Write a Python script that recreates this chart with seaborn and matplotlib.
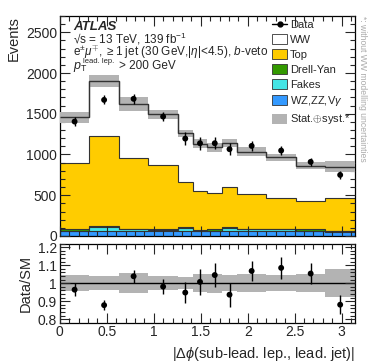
import numpy as np
import pandas as pd
import matplotlib
matplotlib.use("Agg")
import matplotlib.pyplot as plt
from matplotlib.lines import Line2D
from matplotlib.patches import Patch
import seaborn as sns

## Binning: |dphi| in units of pi/10, with finer bins in the middle
edges = np.pi / 10 * np.array([0, 1, 2, 3, 4, 4.5, 5, 5.5, 6, 7, 8, 9, 10])
centers = 0.5 * (edges[1:] + edges[:-1])

## Values (events per bin)
data = [1404, 1670, 1683, 1465, 1195, 1138, 1138, 1065, 1105, 1048, 909, 749]
data_err = [55, 55, 60, 60, 75, 80, 75, 75, 60, 60, 50, 45]
total_mc = [1457, 1903, 1621, 1494, 1261, 1130, 1089, 1138, 1035, 966, 863, 851]
top_cum = [893, 1228, 954, 868, 660, 553, 532, 598, 512, 470, 430, 470]
wz = [55, 65, 60, 60, 60, 55, 55, 60, 55, 55, 55, 50]
fakes = [10, 45, 20, 10, 40, 10, 10, 40, 25, 25, 10, 5]
dy = [15, 15, 10, 15, 10, 10, 15, 15, 10, 10, 15, 10]
rel_unc = [0.045, 0.037, 0.055, 0.037, 0.035, 0.05, 0.053, 0.046, 0.05, 0.045, 0.05, 0.076]

top = np.array(top_cum) - np.array(wz) - np.array(fakes) - np.array(dy)
ww = np.array(total_mc) - np.array(top_cum)

procs = ['WW', 'Top', 'Drell-Yan', 'Fakes', 'WZ,ZZ,V$\\gamma$']
colors = ['white', '#ffcc00', '#339900', '#44e5e5', '#3399ff']
yields = [ww, top, np.array(dy), np.array(fakes), np.array(wz)]

sns.set_theme(style='ticks')
plt.rcParams['font.family'] = ['Liberation Sans', 'DejaVu Sans']
plt.rcParams['mathtext.fontset'] = 'custom'
plt.rcParams['mathtext.rm'] = 'Liberation Sans'
plt.rcParams['mathtext.it'] = 'Liberation Sans:italic'
plt.rcParams['mathtext.bf'] = 'Liberation Sans:bold'

fig = plt.figure(figsize=(3.74, 3.63), dpi=100)
ax = fig.add_axes([0.160, 0.350, 0.789, 0.606])
rax = fig.add_axes([0.160, 0.111, 0.789, 0.218], sharex=ax)

## Stacked MC, drawn from the bottom process up
base = np.zeros(len(centers))
for y, c in list(zip(yields, colors))[::-1]:
    ax.stairs(base + y, edges, baseline=base, fill=True, color=c, lw=0, zorder=1)
    ax.stairs(base + y, edges, baseline=None, color='#333333', lw=0.8, zorder=2)
    base = base + y

tot = np.array(total_mc, dtype=float)
unc = tot * np.array(rel_unc)
ax.stairs(tot + unc, edges, baseline=tot - unc, fill=True,
          color='#b3b3b3', lw=0, zorder=3)
ax.stairs(tot, edges, baseline=None, color='#333333', lw=1, zorder=4)

pts = pd.DataFrame({'x': centers, 'y': data})
ax.errorbar(centers, data, yerr=data_err, fmt='none', ecolor='black',
            elinewidth=1, capsize=0, zorder=5)
sns.scatterplot(data=pts, x='x', y='y', color='black', s=18, edgecolor='none',
                zorder=6, ax=ax, legend=False)

ax.set_xlim(0, np.pi)
ax.set_ylim(0, 2700)
ax.set_ylabel('Events', loc='top', fontsize=10.5)
ax.set_xlabel('')
ax.set_yticks(np.arange(0, 2501, 500))
ax.set_yticks(np.arange(0, 2701, 100), minor=True)

## Ratio panel
ratio = np.array(data) / tot
ratio_err = np.array(data_err) / tot
rel = np.array(rel_unc)
rax.stairs(1 + rel, edges, baseline=1 - rel, fill=True, color='#b3b3b3', lw=0)
rax.axhline(1, color='black', lw=1)
rpts = pd.DataFrame({'x': centers, 'y': ratio})
rax.errorbar(centers, ratio, yerr=ratio_err, fmt='none', ecolor='black',
             elinewidth=1, capsize=0, zorder=5)
sns.scatterplot(data=rpts, x='x', y='y', color='black', s=18, edgecolor='none',
                zorder=6, ax=rax, legend=False)
rax.set_ylim(0.78, 1.22)
rax.set_yticks([0.8, 0.9, 1.0, 1.1, 1.2])
rax.set_yticklabels(['0.8', '0.9', '1', '1.1', '1.2'])
rax.set_yticks(np.arange(0.78, 1.221, 0.02), minor=True)
rax.set_xticks(np.arange(0, 3.01, 0.5))
rax.set_xticklabels(['0', '0.5', '1', '1.5', '2', '2.5', '3'])
rax.set_xticks(np.arange(0, 3.15, 0.1), minor=True)
rax.set_ylabel('Data/SM', fontsize=10.5)
rax.set_xlabel(r'$|\Delta\phi$(sub-lead. lep., lead. jet)$|$', loc='right', fontsize=10.5)

for a in (ax, rax):
    a.tick_params(which='both', direction='in', top=True, right=True,
                  labelsize=10, width=0.8, pad=2)
    a.tick_params(which='major', length=7)
    a.tick_params(which='minor', length=3.5)
    for s in a.spines.values():
        s.set_linewidth(0.9)
        s.set_color('black')
    a.set_axisbelow(False)
ax.tick_params(axis='x', which='both', labelbottom=False)

## Labels
tx = 0.045
ax.text(tx, 0.938, 'ATLAS', transform=ax.transAxes, fontsize=9.5,
        fontweight='bold', fontstyle='italic', va='baseline')
ax.text(tx, 0.877, '\u221as = 13 TeV, 139 fb$^{-1}$', transform=ax.transAxes,
        fontsize=8.5, va='baseline')
ax.text(tx, 0.816, r'e$^{\pm}\mu^{\mp}$, $\geq$1 jet (30 GeV,$|\eta|$<4.5), $b$-veto',
        transform=ax.transAxes, fontsize=8.5, va='baseline')
ax.text(tx, 0.759, r'$p_{\rm T}$', transform=ax.transAxes, fontsize=9,
        va='baseline')
ax.text(tx + 0.034, 0.785, 'lead. lep.', transform=ax.transAxes, fontsize=5.5,
        va='baseline')
ax.text(0.2, 0.759, '> 200 GeV', transform=ax.transAxes, fontsize=8.5,
        va='baseline')

handles = [Line2D([], [], color='black', marker='o', ms=3.5, lw=1)]
for c in colors:
    handles.append(Patch(facecolor=c, edgecolor='#333333', lw=0.6))
handles.append(Patch(facecolor='#b3b3b3', edgecolor='none'))
labels = ['Data'] + procs + [r'Stat.$\oplus$syst.*']
ax.legend(handles, labels, loc='upper left', bbox_to_anchor=(0.72, 0.985),
          frameon=False, fontsize=8, handlelength=1.3, handleheight=1.0,
          handletextpad=0.3, labelspacing=0.38, borderaxespad=0, borderpad=0)

fig.text(0.968, 0.955, '*: without WW modelling uncertainties', rotation=270,
         fontsize=6.2, color='#aaaaaa', va='top', ha='center')

fig.savefig('out.png', dpi=100)
